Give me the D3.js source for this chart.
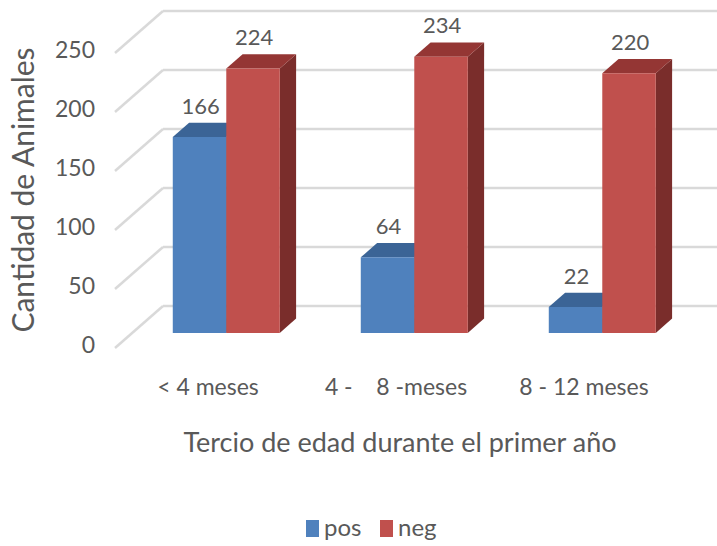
<!DOCTYPE html>
<html>
<head>
<meta charset="utf-8">
<script src="https://cdn.jsdelivr.net/npm/d3@7"></script>
<style>
  html, body { margin: 0; padding: 0; background: #fff; }
  svg { display: block; font-family: Lato, "Open Sans", sans-serif; }
  text { fill: #595959; white-space: pre; }
</style>
</head>
<body>
<svg id="chart" width="717" height="546"></svg>
<script>
// Age groups during the first year and animal counts per result
const categories = ["< 4 meses", "4 -    8 -meses", "8 - 12 meses"];
const seriesNames = ["pos", "neg"];
const posValues = [166, 64, 22];
const negValues = [224, 234, 220];
const yTicks = [0, 50, 100, 150, 200, 250];

const svg = d3.select("#chart");
const W = 717;

// 3D frame: front plane origin and depth vector
const front = { left: 115, zero: 348 };
const depth = { dx: 48, dy: -42 };
const barDepth = [0.36, 0.70];   // fraction of depth occupied by the bars

const y = d3.scaleLinear().domain([0, 250]).range([0, 295]);
const x0 = d3.scaleBand().domain(categories).range([front.left, front.left + 564]);
const groupWidth = 107;
const x1 = d3.scaleBand().domain(seriesNames).range([0, groupWidth]);

const colors = {
  pos: { front: "#4F81BD", top: "#3B6496", side: "#2E5077" },
  neg: { front: "#C0504D", top: "#943634", side: "#7A2D2B" }
};

// project (front-plane x, value, depth fraction) -> screen
function P(xf, v, d) {
  return [xf + depth.dx * d, front.zero - y(v) + depth.dy * d];
}

const grid = svg.append("g");
yTicks.forEach(t => {
  const a = P(front.left, t, 0), b = P(front.left, t, 1);
  grid.append("line")
    .attr("x1", a[0]).attr("y1", a[1]).attr("x2", b[0]).attr("y2", b[1])
    .attr("stroke", "#D9D9D9").attr("stroke-width", 2.5);
  grid.append("line")
    .attr("x1", b[0]).attr("y1", b[1]).attr("x2", W).attr("y2", b[1])
    .attr("stroke", "#D9D9D9").attr("stroke-width", 2.5);
});

// y tick labels
svg.append("g").selectAll("text").data(yTicks).join("text")
  .attr("x", 95).attr("y", d => front.zero - y(d) - 1)
  .attr("text-anchor", "end").attr("dominant-baseline", "middle")
  .attr("font-size", 23)
  .text(d => d);

// bars
const data = [];
categories.forEach((c, i) => {
  seriesNames.forEach(s => {
    data.push({ cat: c, s, v: s === "pos" ? posValues[i] : negValues[i] });
  });
});

const bars = svg.append("g");
data.forEach(d => {
  const xl = x0(d.cat) + (x0.bandwidth() - groupWidth) / 2 + x1(d.s);
  const xr = xl + x1.bandwidth();
  const [d1, d2] = barDepth;
  const pts = arr => arr.map(p => p.join(",")).join(" ");
  const g = bars.append("g");
  // side
  g.append("polygon").attr("points", pts([P(xr, 0, d1), P(xr, 0, d2), P(xr, d.v, d2), P(xr, d.v, d1)]))
    .attr("fill", colors[d.s].side);
  // top
  g.append("polygon").attr("points", pts([P(xl, d.v, d1), P(xr, d.v, d1), P(xr, d.v, d2), P(xl, d.v, d2)]))
    .attr("fill", colors[d.s].top);
  // front
  g.append("polygon").attr("points", pts([P(xl, 0, d1), P(xr, 0, d1), P(xr, d.v, d1), P(xl, d.v, d1)]))
    .attr("fill", colors[d.s].front);
  // value label
  const lp = P((xl + xr) / 2, d.v, d2);
  g.append("text")
    .attr("x", lp[0] - depth.dx * (d2 - d1) + 1).attr("y", lp[1] - 9)
    .attr("text-anchor", "middle").attr("font-size", 22)
    .text(d.v);
});

// category labels
svg.append("g").selectAll("text").data(categories).join("text")
  .attr("x", d => x0(d) + x0.bandwidth() / 2 - 1)
  .attr("y", 395)
  .attr("text-anchor", "middle").attr("font-size", 23)
  .text(d => d);

// axis titles
svg.append("text")
  .attr("x", 400).attr("y", 452)
  .attr("text-anchor", "middle").attr("font-size", 27)
  .text("Tercio de edad durante el primer año");

svg.append("text")
  .attr("transform", "translate(34,190) rotate(-90)")
  .attr("text-anchor", "middle").attr("font-size", 30)
  .text("Cantidad de Animales");

// legend
const legend = svg.append("g");
const legendItems = [{ s: "pos", x: 306 }, { s: "neg", x: 380 }];
legendItems.forEach(it => {
  legend.append("rect").attr("x", it.x).attr("y", 520).attr("width", 13).attr("height", 17)
    .attr("fill", colors[it.s].front);
  legend.append("text").attr("x", it.x + 18).attr("y", 536)
    .attr("font-size", 24).text(it.s);
});
</script>
</body>
</html>
